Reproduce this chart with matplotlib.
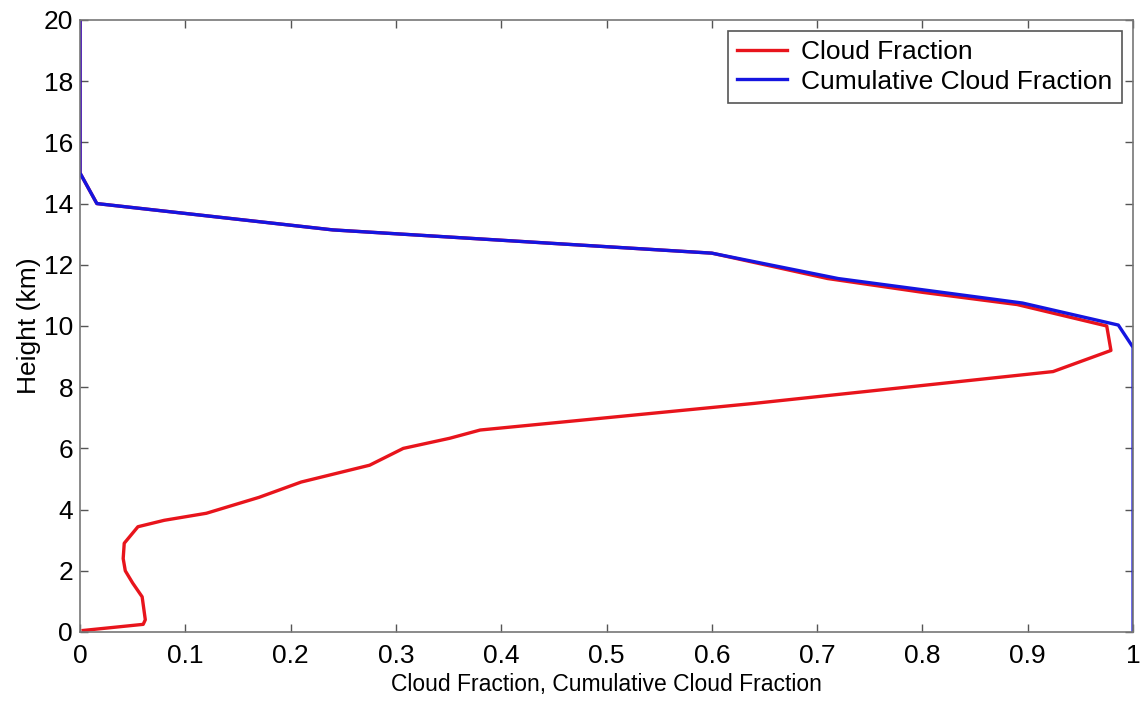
import matplotlib
matplotlib.use("Agg")
import matplotlib.pyplot as plt

# =========================
# DATA
# =========================
cf_x = [0.003, 0.06, 0.062, 0.059, 0.05, 0.043, 0.041, 0.042, 0.055, 0.08, 0.12,
        0.17, 0.21, 0.275, 0.307, 0.351, 0.38, 0.64, 0.924,
        0.979, 0.975, 0.89, 0.80, 0.71, 0.6, 0.24, 0.016, 0.0, 0.0]
cf_h = [0.05, 0.25, 0.4, 1.15, 1.6, 2.0, 2.4, 2.9, 3.44, 3.65, 3.88,
        4.4, 4.9, 5.45, 6.0, 6.33, 6.6, 7.47, 8.51,
        9.2, 10.0, 10.7, 11.1, 11.55, 12.38, 13.14, 14.0, 15.0, 20.0]

ccf_x = [1.0, 1.0, 0.986, 0.895, 0.72, 0.6, 0.24, 0.016, 0.0, 0.0]
ccf_h = [0.0, 9.3, 10.03, 10.75, 11.55, 12.38, 13.14, 14.0, 15.0, 20.0]

x_ticks = [0, 0.1, 0.2, 0.3, 0.4, 0.5, 0.6, 0.7, 0.8, 0.9, 1]
x_tick_labels = ["0", "0.1", "0.2", "0.3", "0.4", "0.5", "0.6", "0.7", "0.8", "0.9", "1"]
y_ticks = list(range(0, 21, 2))

# =========================
# PLOT
# =========================
plt.rcParams["font.family"] = ["Liberation Sans", "DejaVu Sans"]

fig = plt.figure(figsize=(11.43, 7.03), dpi=100)
ax = fig.add_axes([0.07, 0.101, 0.9213, 0.8706])

ax.plot(cf_x, cf_h, color="#e8141c", linewidth=2.4, label="Cloud Fraction")
ax.plot(ccf_x, ccf_h, color="#1515e0", linewidth=2.4, label="Cumulative Cloud Fraction")

ax.set_xlim(0, 1)
ax.set_ylim(0, 20)
ax.set_xticks(x_ticks)
ax.set_xticklabels(x_tick_labels)
ax.set_yticks(y_ticks)
ax.tick_params(direction="in", top=True, right=True, length=6, width=1,
               color="#555555", labelsize=19)
ax.tick_params(axis="x", pad=9)
ax.tick_params(axis="y", pad=5)
for sp in ax.spines.values():
    sp.set_color("#777777")
    sp.set_linewidth(1.2)

ax.set_xlabel("Cloud Fraction, Cumulative Cloud Fraction", fontsize=16.5, labelpad=3)
ax.set_ylabel("Height (km)", fontsize=19, labelpad=2)

leg = ax.legend(loc="upper right", fontsize=19, fancybox=False, framealpha=1,
                edgecolor="#555555", handlelength=1.9, handletextpad=0.55,
                borderaxespad=0.42, borderpad=0.35, labelspacing=0.2)
leg.get_frame().set_linewidth(1.2)

fig.savefig("out.png", dpi=100)
